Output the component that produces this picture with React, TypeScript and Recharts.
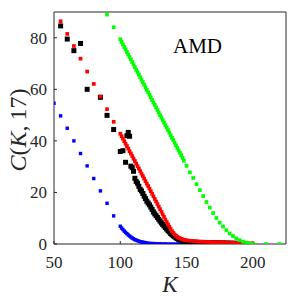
import React from "react";
import { ScatterChart, Scatter, XAxis, YAxis, Label } from "recharts";

// K values and C(K,17), one list of [K, C] per method
const blackPts: [number, number][] = [
  [55, 84.6], [60, 79.5], [65, 75.0], [70, 77.8], [75, 60.0], [85, 56.9], [90, 49.9], [95, 44.4],
  [100, 35.9], [102, 36.2], [104, 31.7], [105, 42.0], [106, 43.3], [107, 41.8],
  [108, 30.2], [109, 29.6], [110, 28.2], [111, 25.5], [112, 24.3], [113, 23.6], [114, 22.4],
  [115, 21.2], [116, 20.6], [117, 19.6], [118, 18.5], [119, 17.6], [120, 16.6], [121, 15.9],
  [122, 15.2], [123, 14.3], [124, 13.4], [125, 12.4], [126, 11.7], [127, 11.0], [128, 10.3],
  [129, 9.6], [130, 8.9], [131, 8.2], [132, 7.6], [133, 7.0], [134, 6.4], [135, 5.8],
  [136, 5.2], [137, 4.7], [138, 4.1], [139, 3.6], [140, 3.2], [141, 2.8], [142, 2.4],
  [143, 2.1], [144, 1.8], [145, 1.6], [146, 1.4], [147, 1.2], [148, 1.1], [150, 0.9],
  [152, 0.8], [154, 0.75], [156, 0.7], [158, 0.65], [160, 0.6], [162, 0.6], [164, 0.55],
  [166, 0.55], [168, 0.5], [170, 0.5], [172, 0.45], [174, 0.45], [176, 0.4], [178, 0.4],
  [180, 0.35], [182, 0.35], [184, 0.3], [186, 0.3], [188, 0.25],
];

const bluePts: [number, number][] = [
  [50, 54.6], [55, 49.7], [60, 44.9], [65, 40.0], [70, 35.1], [75, 30.3], [80, 25.4], [85, 20.6],
  [90, 15.8], [95, 10.9],
  [100, 6.9], [101, 6.2], [102, 5.6], [103, 5.0], [104, 4.5], [105, 4.0], [106, 3.5], [107, 3.1],
  [108, 2.7], [109, 2.3], [110, 2.0], [111, 1.7], [112, 1.5], [113, 1.3], [114, 1.1], [115, 0.9],
  [116, 0.8], [117, 0.7], [118, 0.6], [119, 0.5], [120, 0.4], [122, 0.3], [124, 0.2], [126, 0.15],
  [128, 0.1], [130, 0.1], [132, 0.05], [134, 0.05], [136, 0], [138, 0], [140, 0], [142, 0],
  [144, 0], [146, 0], [148, 0], [150, 0], [152, 0], [154, 0], [156, 0], [158, 0], [160, 0],
];

const redPts: [number, number][] = [
  [55, 86.4], [60, 81.5], [65, 76.8], [70, 71.9], [75, 66.9], [80, 62.1], [85, 57.2], [90, 52.3],
  [95, 47.4],
  [100, 42.8], [101, 41.8], [102, 40.9], [103, 39.9], [104, 38.9], [105, 38.0], [106, 37.0],
  [107, 36.0], [108, 35.1], [109, 34.1], [110, 33.1], [111, 32.2], [112, 31.2], [113, 30.2],
  [114, 29.3], [115, 28.3], [116, 27.3], [117, 26.4], [118, 25.4], [119, 24.4], [120, 23.4],
  [121, 22.5], [122, 21.5], [123, 20.5], [124, 19.5], [125, 18.5], [126, 17.5], [127, 16.5],
  [128, 15.5], [129, 14.5], [130, 13.5], [131, 12.5], [132, 11.5], [133, 10.5], [134, 9.5],
  [135, 8.5], [136, 7.6], [137, 6.7], [138, 5.8], [139, 5.0], [140, 4.3], [141, 3.7],
  [142, 3.2], [143, 2.8], [144, 2.5], [145, 2.2], [146, 2.0], [147, 1.8], [148, 1.6],
  [149, 1.5], [150, 1.4], [152, 1.3], [154, 1.2], [156, 1.1], [158, 1.0], [160, 0.9],
  [162, 0.9], [164, 0.85], [166, 0.8], [168, 0.75], [170, 0.7], [172, 0.68], [174, 0.65],
  [176, 0.6], [178, 0.58], [180, 0.55], [182, 0.5], [184, 0.48], [186, 0.45], [188, 0.42],
  [190, 0.4], [192, 0.35], [194, 0.3], [196, 0.25], [198, 0.2], [200, 0.15],
];

const greenPts: [number, number][] = [
  [90, 89.0], [95, 84.1],
  [100, 79.4], [101, 78.4], [102, 77.4], [103, 76.4], [104, 75.5], [105, 74.5], [106, 73.5],
  [107, 72.5], [108, 71.6], [109, 70.6], [110, 69.6], [111, 68.6], [112, 67.6], [113, 66.7],
  [114, 65.7], [115, 64.7], [116, 63.7], [117, 62.8], [118, 61.8], [119, 60.8], [120, 59.8],
  [121, 58.8], [122, 57.9], [123, 56.9], [124, 55.9], [125, 54.9], [126, 54.0], [127, 53.0],
  [128, 52.0], [129, 51.0], [130, 50.0], [131, 49.1], [132, 48.1], [133, 47.1], [134, 46.1],
  [135, 45.2], [136, 44.2], [137, 43.2], [138, 42.2], [139, 41.2], [140, 40.3], [141, 39.3],
  [142, 38.3], [143, 37.3], [144, 36.3], [145, 35.4], [146, 34.4], [147, 33.4], [148, 32.3],
  [150, 30.3], [152.5, 27.8], [155, 25.6], [157.5, 23.2], [160, 20.9], [162.5, 18.6],
  [165, 16.3], [167.5, 14.1], [170, 12.0], [172.5, 10.1], [175, 8.3], [177.5, 6.8], [180, 5.4],
  [182.5, 4.1], [185, 3.1], [187.5, 2.2], [190, 1.5], [192.5, 0.9], [195, 0.5], [197.5, 0.2],
  [200, 0], [210, 0], [220, 0],
];

const xTicks = [50, 100, 150, 200];
const yTicks = [0, 20, 40, 60, 80];

const toRows = (pts: [number, number][]) => pts.map(([k, c]) => ({ k, c }));

// square marker centred on the point recharts computed
const square = (size: number, color: string) => (p: any) => (
  <rect x={p.cx - size / 2} y={p.cy - size / 2} width={size} height={size} fill={color} />
);

const axisColor = "#262626";
const serif = "'Liberation Serif', 'Times New Roman', serif";

export default function App() {
  return (
    <div style={{ position: "absolute", left: 0, top: 0, width: 300, height: 300, background: "#fff", fontFamily: serif }}>
      <ScatterChart width={300} height={300} margin={{ top: 11, right: 13, bottom: 0, left: 0 }}>
        <XAxis
          type="number"
          dataKey="k"
          domain={[50, 225]}
          ticks={xTicks}
          interval={0}
          allowDataOverflow
          height={56}
          stroke={axisColor}
          tickSize={-3}
          tickMargin={15}
          tick={{ fontSize: 17, fill: axisColor, fontFamily: serif }}
        >
          <Label
            content={() => (
              <text x={170} y={292} textAnchor="middle" fontSize={23} fontStyle="italic" fontFamily={serif} fill={axisColor}>
                K
              </text>
            )}
          />
        </XAxis>
        <XAxis
          xAxisId="top"
          orientation="top"
          type="number"
          dataKey="k"
          domain={[50, 225]}
          ticks={xTicks}
          interval={0}
          allowDataOverflow
          height={1}
          stroke={axisColor}
          tickSize={-3}
          tick={false}
        >
          <Label
            content={() => (
              <text x={173} y={53} fontSize={21} fontFamily={serif} fill="#000">
                AMD
              </text>
            )}
          />
        </XAxis>
        <YAxis
          type="number"
          dataKey="c"
          domain={[0, 90]}
          ticks={yTicks}
          interval={0}
          allowDataOverflow
          width={54}
          stroke={axisColor}
          tickSize={-3}
          tickMargin={10}
          tick={{ fontSize: 17, fill: axisColor, fontFamily: serif }}
        >
          <Label
            content={() => (
              <text
                x={18}
                y={130}
                transform="rotate(-90, 18, 130)"
                textAnchor="middle"
                dominantBaseline="central"
                fontSize={24}
                fontFamily={serif}
                fill={axisColor}
              >
                <tspan fontStyle="italic">C</tspan>
                <tspan>(</tspan>
                <tspan fontStyle="italic">K</tspan>
                <tspan>,{"\u2009"}17)</tspan>
              </text>
            )}
          />
        </YAxis>
        <YAxis
          yAxisId="right"
          orientation="right"
          type="number"
          dataKey="c"
          domain={[0, 90]}
          ticks={yTicks}
          interval={0}
          allowDataOverflow
          width={1}
          stroke={axisColor}
          tickSize={-3}
          tick={false}
        />
        <Scatter data={toRows(bluePts)} shape={square(3.4, "#0000ff")} isAnimationActive={false} />
        <Scatter data={toRows(blackPts)} shape={square(5, "#000000")} isAnimationActive={false} />
        <Scatter data={toRows(redPts)} shape={square(3.7, "#ff0000")} isAnimationActive={false} />
        <Scatter data={toRows(greenPts)} shape={square(3.7, "#00ff00")} isAnimationActive={false} />
      </ScatterChart>
    </div>
  );
}
